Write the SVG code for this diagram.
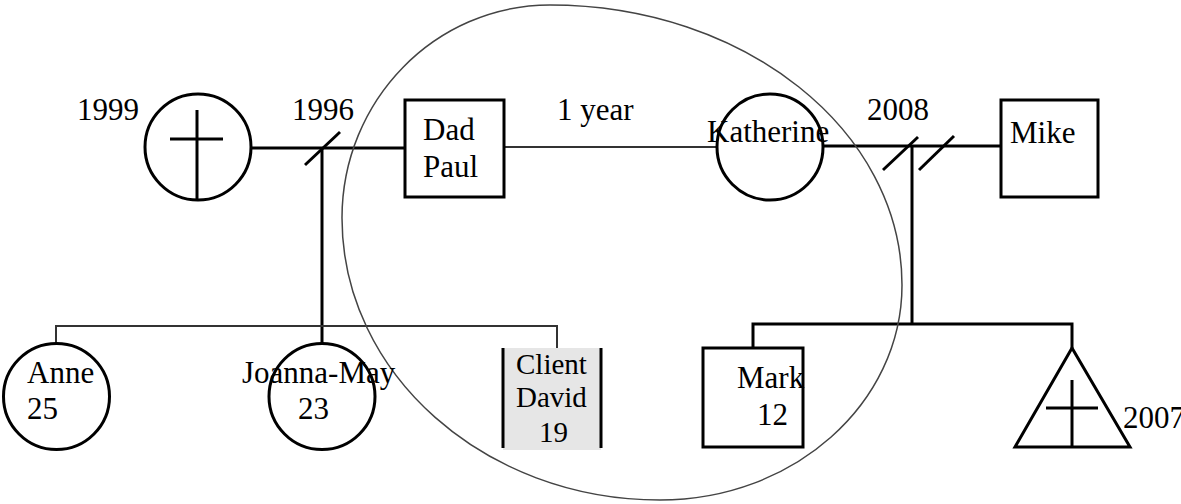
<svg xmlns="http://www.w3.org/2000/svg" width="1181" height="504" viewBox="0 0 1181 504">
<style>
.t{font-family:"Liberation Serif","Times New Roman",serif;font-size:31px;fill:#000}
.ts{font-family:"Liberation Serif","Times New Roman",serif;font-size:29px;fill:#000}
.shape{fill:#fff;stroke:#000;stroke-width:3}
.thick{stroke:#000;stroke-width:3;fill:none}
.thin{stroke:#333;stroke-width:2;fill:none}
</style>
<rect width="1181" height="504" fill="#fff"/>
<g id="connectors">
<line class="thick" x1="251" y1="148" x2="405" y2="148"/>
<line class="thick" x1="305" y1="165" x2="340" y2="132"/>
<line class="thick" x1="322" y1="148" x2="322" y2="343"/>
<polyline class="thin" points="56,343 56,326 557,326 557,348"/>
<line class="thin" x1="504" y1="147" x2="717" y2="147"/>
<line class="thick" x1="824" y1="146" x2="1001" y2="146"/>
<line class="thick" x1="883" y1="170" x2="918" y2="137"/>
<line class="thick" x1="919" y1="170" x2="954" y2="136"/>
<line class="thick" x1="912" y1="146" x2="912" y2="324"/>
<polyline class="thick" points="753,348 753,324 1072,324 1072,348"/>
</g>
<g id="household">
<path d="M550,5 C744.4,5 902,130.4 902,285 C902,403.7 793.7,500 660,500 C484.4,500 342,373.7 342,218 C342,100.4 435.1,5 550,5 Z" fill="none" stroke="#444" stroke-width="1.5"/>
</g>
<g id="grandmother">
<circle class="shape" cx="198" cy="147" r="53"/>
<line class="thick" x1="197" y1="110" x2="197" y2="200"/>
<line class="thick" x1="170" y1="139" x2="223" y2="139"/>
<text class="t" x="77" y="120">1999</text>
</g>
<text class="t" x="292" y="120">1996</text>
<g id="dad">
<rect class="shape" x="405" y="100" width="99" height="97"/>
<text class="t" x="423" y="140">Dad</text>
<text class="t" x="423" y="177">Paul</text>
</g>
<text class="t" x="557" y="120">1 year</text>
<g id="katherine">
<circle class="shape" cx="770" cy="147" r="53"/>
<text class="t" x="707" y="142">Katherine</text>
</g>
<text class="t" x="867" y="120">2008</text>
<g id="mike">
<rect class="shape" x="1001" y="100" width="97" height="97"/>
<text class="t" x="1010" y="143">Mike</text>
</g>
<g id="anne">
<circle class="shape" cx="56.5" cy="396.5" r="53"/>
<text class="t" x="27" y="383">Anne</text>
<text class="t" x="27" y="419">25</text>
</g>
<g id="joanna">
<circle class="shape" cx="322" cy="396.5" r="53"/>
<text class="t" x="242" y="383">Joanna-May</text>
<text class="t" x="298" y="419">23</text>
</g>
<g id="client">
<rect x="503" y="348" width="98" height="102" fill="#e6e6e6"/>
<line class="thick" x1="503" y1="348" x2="503" y2="448"/>
<line class="thick" x1="601" y1="348" x2="601" y2="448"/>
<text class="ts" x="516" y="374">Client</text>
<text class="ts" x="516" y="407">David</text>
<text class="ts" x="539" y="442">19</text>
</g>
<g id="mark">
<rect class="shape" x="703" y="348" width="100" height="99" stroke-width="3.5"/>
<text class="t" x="737" y="388">Mark</text>
<text class="t" x="757" y="425">12</text>
</g>
<g id="deceased-child">
<polygon class="shape" points="1072,348 1015,447 1130,447"/>
<line class="thick" x1="1072" y1="380" x2="1072" y2="447"/>
<line class="thick" x1="1046" y1="408" x2="1098" y2="408"/>
<text class="t" x="1123" y="428">2007</text>
</g>
</svg>
